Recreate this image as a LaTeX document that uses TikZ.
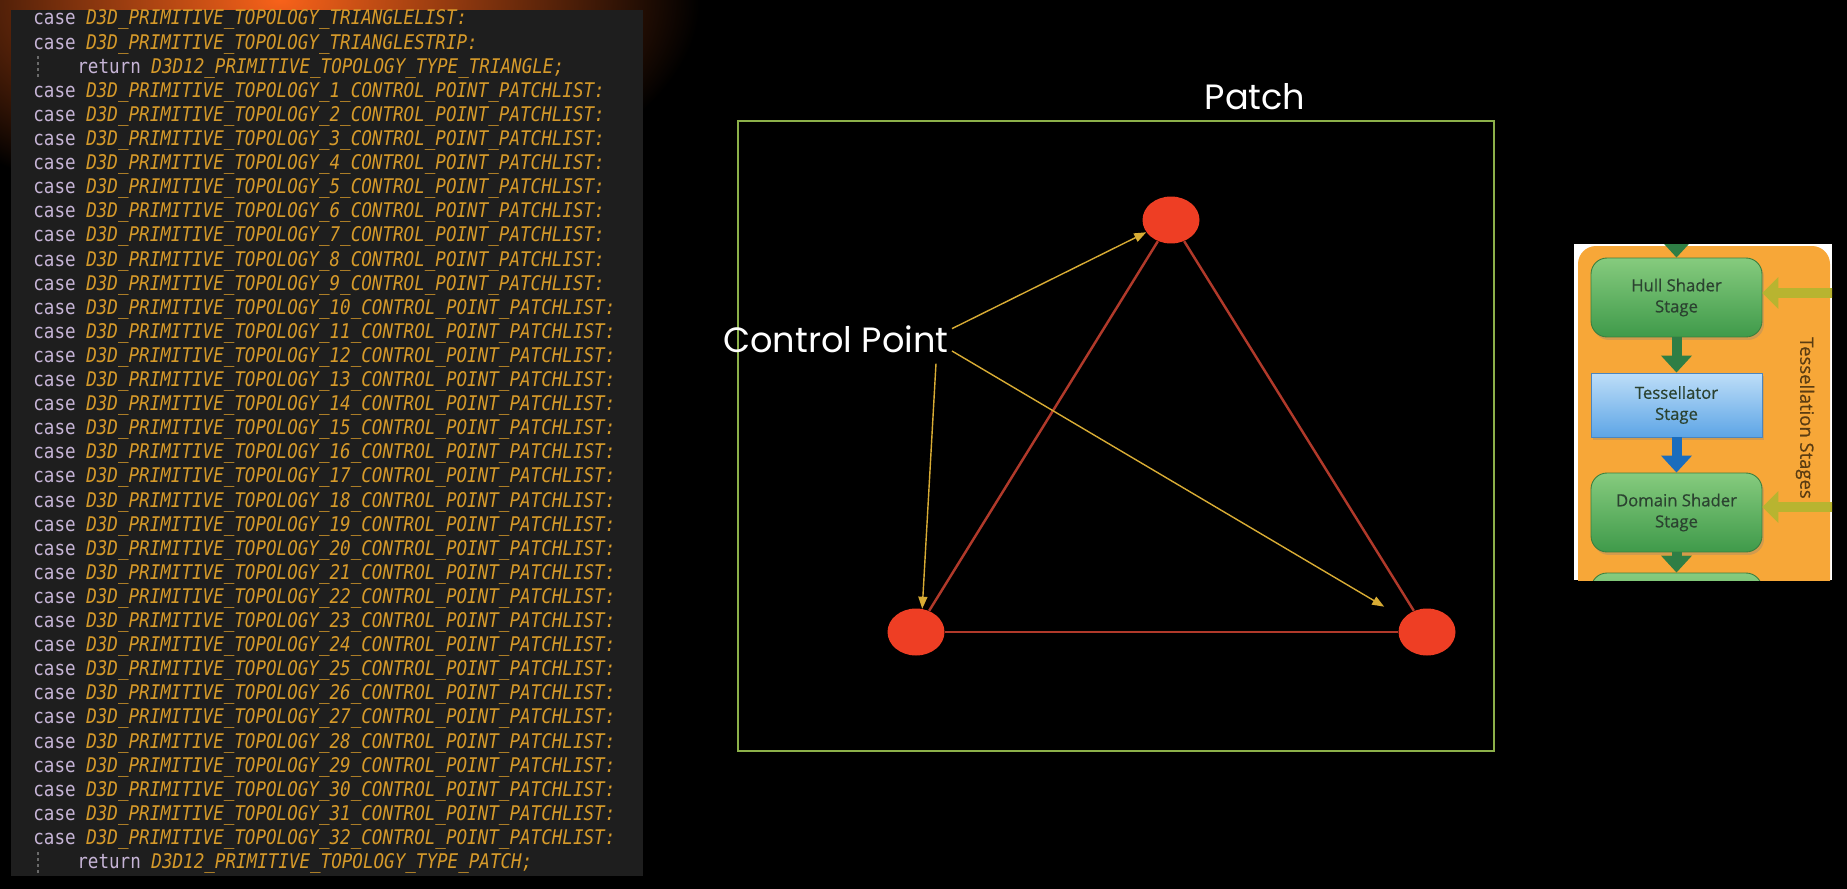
\documentclass[tikz,border=0pt]{standalone}
\usepackage{fontspec}
\setmainfont{Poppins}
\newfontfamily\codefont{DejaVu Sans Mono}[FakeStretch=0.87]
\newfontfamily\figfont{Open Sans}[FakeBold=0.6]
\usetikzlibrary{arrows.meta,shapes.geometric,shadows}
\definecolor{panelbg}{HTML}{1E1E1E}
\definecolor{kwcol}{HTML}{C6B4D6}
\definecolor{idcol}{HTML}{D69A2A}
\definecolor{guidegray}{HTML}{6A6A6A}
\definecolor{glow}{HTML}{F8621A}
\definecolor{patchgreen}{HTML}{8CB04A}
\definecolor{dotred}{HTML}{EE3E24}
\definecolor{edgered}{HTML}{B0392A}
\definecolor{tipgold}{HTML}{D8AC34}
\definecolor{stageorange}{HTML}{F7A738}
\definecolor{greentop}{HTML}{86CB7E}
\definecolor{greenbot}{HTML}{3F9A4A}
\definecolor{greenline}{HTML}{3A7F3E}
\definecolor{bluetop}{HTML}{BEDEF8}
\definecolor{bluebot}{HTML}{5DA5E6}
\definecolor{blueline}{HTML}{4C86BE}
\definecolor{flowgreen}{HTML}{2F7E45}
\definecolor{flowblue}{HTML}{1B6DBD}
\definecolor{inputolive}{HTML}{B8B430}
\definecolor{stagetext}{HTML}{2B4230}
\definecolor{stagelabel}{HTML}{5A3C12}
\newcommand{\codekw}[1]{\textcolor{kwcol}{#1}}
\newcommand{\codeid}[1]{\textcolor{idcol}{\itshape #1}}
\begin{document}
\begin{tikzpicture}[
  x=0.02cm, y=-0.02cm,
  codeline/.style={anchor=base west, inner sep=0pt, font=\codefont\fontsize{11.5}{12}\selectfont},
  guide/.style={draw=guidegray, line width=0.6pt, dash pattern=on 1.5pt off 2pt},
  lbl/.style={text=white, inner sep=0.06cm, font=\fontsize{20}{24}\selectfont},
  ctrlpt/.style={ellipse, fill=dotred, minimum width=1.14cm, minimum height=0.94cm, inner sep=0pt},
  tri/.style={draw=edgered, line width=1.4pt},
  cparrow/.style={draw=tipgold, line width=0.8pt, -{Triangle[length=0.24cm,width=0.18cm]}},
  shader/.style={rounded corners=0.32cm, minimum width=3.42cm, minimum height=1.58cm,
                 top color=greentop, bottom color=greenbot, draw=greenline, line width=0.5pt,
                 align=center, text=stagetext, font=\figfont\fontsize{9.5}{12}\selectfont,
                 drop shadow={shadow xshift=0.04cm, shadow yshift=-0.06cm, opacity=0.3}},
  fixedfn/.style={minimum width=3.42cm, minimum height=1.28cm,
                  top color=bluetop, bottom color=bluebot, draw=blueline, line width=0.5pt,
                  align=center, text=stagetext, font=\figfont\fontsize{9.5}{12}\selectfont,
                  drop shadow={shadow xshift=0.04cm, shadow yshift=-0.06cm, opacity=0.3}},
  flow/.style={draw=flowgreen, line width=0.2cm, -{Triangle[length=0.34cm,width=0.6cm]}},
  sidein/.style={draw=inputolive, line width=0.2cm, -{Triangle[length=0.32cm,width=0.62cm]}}
]
\useasboundingbox (0,0) rectangle (1847,889);
\fill[black] (0,0) rectangle (1847,889);
\begin{scope}
  \clip (0,0) rectangle (720,300);
  \shade[inner color=glow, outer color=black] (280,0) ellipse [x radius=8.4cm, y radius=4.4cm];
\end{scope}

\fill[panelbg] (11,10) rectangle (643,876);
\node[codeline] (row1) at (33,25) {\codekw{case} \codeid{D3D\_PRIMITIVE\_TOPOLOGY\_TRIANGLELIST:}};
\node[codeline] (row2) at (33,49.1) {\codekw{case} \codeid{D3D\_PRIMITIVE\_TOPOLOGY\_TRIANGLESTRIP:}};
\node[codeline] (row3) at (77,73.2) {\codekw{return} \codeid{D3D12\_PRIMITIVE\_TOPOLOGY\_TYPE\_TRIANGLE;}};
\foreach \n in {1,...,32}
  \node[codeline] (rowcp\n) at (33,{25+24.1*(\n+2)})
    {\codekw{case} \codeid{D3D\_PRIMITIVE\_TOPOLOGY\_\n\_CONTROL\_POINT\_PATCHLIST:}};
\node[codeline] (row36) at (77,868.5) {\codekw{return} \codeid{D3D12\_PRIMITIVE\_TOPOLOGY\_TYPE\_PATCH;}};
\draw[guide] (38,56) -- (38,78);
\draw[guide] (38,852) -- (38,874);

\draw[patchgreen, line width=1.2pt] (738,121) rectangle (1494,751);
\node[lbl, anchor=base] (patch) at (1255,109) {Patch};
\node[ctrlpt] (p1) at (1171,220) {};
\node[ctrlpt] (p2) at (916,632) {};
\node[ctrlpt] (p3) at (1427,632) {};
\draw[tri] (p1) -- (p2);
\draw[tri] (p1) -- (p3);
\draw[tri] (p2) -- (p3);
\node[lbl, anchor=base west] (cp) at (720,352) {Control Point};
\draw[cparrow] (cp.5) -- (p1);
\draw[cparrow] ([xshift=-0.32cm, yshift=-0.16cm]cp.south east) -- (p2.75);
\draw[cparrow, shorten >=0.45cm] (cp.-6) -- (p3);

\fill[white] (1574,244) rectangle (1832,580);
\begin{scope}
  \clip (1574,244) rectangle (1832,580);
  \fill[stageorange, rounded corners=0.36cm] (1578,246) rectangle (1830,660);
  \node[shader] (hull) at (1676.5,297.5) {Hull Shader\\Stage};
  \node[fixedfn] (tess) at (1676.5,405) {Tessellator\\Stage};
  \node[shader] (domain) at (1676.5,512.5) {Domain Shader\\Stage};
  \node[shader] (nextstage) at (1676.5,612.5) {};
  \coordinate (intop) at (1676.5,225);
  \coordinate (hullin) at (1845,293);
  \coordinate (domainin) at (1845,507);
  \draw[flow] (intop) -- (hull.north);
  \draw[flow] (hull) -- (tess);
  \draw[flow, draw=flowblue] (tess) -- (domain);
  \draw[flow] (domain) -- (nextstage);
  \draw[sidein] (hullin) -- (hullin -| hull.east);
  \draw[sidein] (domainin) -- (domainin -| domain.east);
  \node[rotate=-90, text=stagelabel, font=\figfont\fontsize{10.5}{12}\selectfont] (stages) at (1805,418) {Tessellation Stages};
\end{scope}
\end{tikzpicture}
\end{document}
